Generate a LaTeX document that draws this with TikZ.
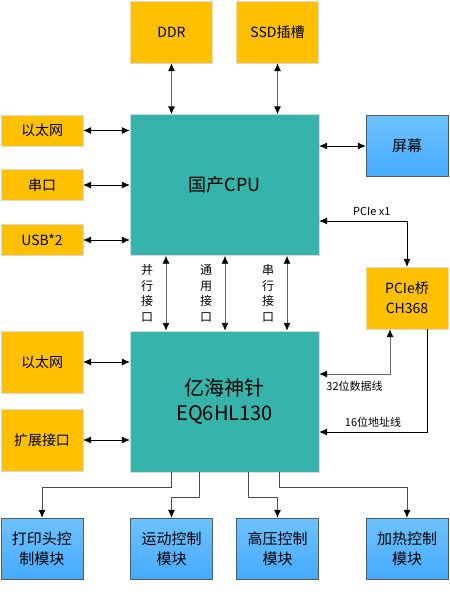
\documentclass[tikz,border=0pt]{standalone}
\usepackage{fontspec}
\setmainfont{Noto Sans CJK SC}
\usetikzlibrary{arrows.meta}
\definecolor{portorange}{HTML}{FFC000}
\definecolor{chipteal}{HTML}{36B3AA}
\definecolor{modtop}{HTML}{6EC2FF}
\definecolor{modbot}{HTML}{45AAFF}
\begin{document}
\begin{tikzpicture}[x=1pt, y=-1pt,
            >={Latex[length=8pt,width=7pt,color=black]},
            port/.style={rectangle, draw=black!15, fill=portorange, inner sep=0pt, minimum width=82pt, minimum height=62pt, font=\fontsize{14}{20}\selectfont, align=center},
            small port/.style={port, minimum height=31pt},
            chip/.style={rectangle, draw=black!15, fill=chipteal, inner sep=0pt, minimum width=189pt, minimum height=141pt, align=center},
            module/.style={rectangle, draw=black!65, top color=modtop, bottom color=modbot, inner sep=0pt, minimum width=82pt, minimum height=61pt, font=\fontsize{15}{20}\selectfont, align=center},
            bus/.style={<->, draw=black!60, line width=0.9pt},
            link/.style={<->, draw=black, line width=0.6pt},
            tree/.style={->, draw=black!70, line width=0.7pt},
            side label/.style={font=\fontsize{12}{15.5}\selectfont, align=center}
        ]
        \useasboundingbox (0,0) rectangle (450,614);
        
        % Chips
        \node[chip, font=\fontsize{18}{22}\selectfont] (cpu) at (224.5,185) {国产CPU};
        \node[chip, font=\fontsize{20}{25}\selectfont] (fpga) at (224.5,401.5) {亿海神针\\EQ6HL130};
        
        % Memory and storage
        \node[port] (ddr) at (171.5,32) {DDR};
        \node[port] (ssd) at (277.5,32) {SSD插槽};
        
        % CPU ports
        \node[small port] (eth-a) at (42,130.5) {以太网};
        \node[small port] (uart) at (42,185) {串口};
        \node[small port] (usb) at (42,240) {USB*2};
        \node[module] (screen) at (407,146) {屏幕};
        \node[port, font=\fontsize{14}{20}\selectfont] (bridge) at (407,298) {PCIe桥\\CH368};
        
        % FPGA ports
        \node[port] (eth-b) at (42,362) {以太网};
        \node[port] (ext) at (42,440) {扩展接口};
        
        % Modules
        \node[module] (head) at (42,548.5) {打印头控\\制模块};
        \node[module] (motion) at (171.5,548.5) {运动控制\\模块};
        \node[module] (hv) at (277.5,548.5) {高压控制\\模块};
        \node[module] (heat) at (407,548.5) {加热控制\\模块};
        
        % Connect memory and storage to CPU
        \foreach \n in {ddr,ssd}
            \draw[bus] (\n.south) -- (\n.south |- cpu.north);
        
        % Connect ports to CPU and FPGA
        \foreach \n in {eth-a,uart,usb}
            \draw[link] (\n.east) -- (\n.east -| cpu.west);
        \foreach \n in {eth-b,ext}
            \draw[link] (\n.east) -- (\n.east -| fpga.west);
        \draw[link] (screen.west) -- (screen.west -| cpu.east);
        
        % CPU to PCIe bridge
        \draw[link] ([yshift=-36pt]cpu.east) -| node[pos=0.3, above=2pt, font=\fontsize{11}{13}\selectfont] {PCIe x1} (bridge.north);
        
        % CPU to FPGA buses
        \draw[bus] ([xshift=-58.5pt]cpu.south) -- ([xshift=-58.5pt]fpga.north)
            node[midway, left=9pt, side label] {并\\行\\接\\口};
        \draw[bus] ([xshift=0.5pt]cpu.south) -- ([xshift=0.5pt]fpga.north)
            node[midway, left=9pt, side label] {通\\用\\接\\口};
        \draw[bus] ([xshift=62.5pt]cpu.south) -- ([xshift=62.5pt]fpga.north)
            node[midway, left=9pt, side label] {串\\行\\接\\口};
        
        % PCIe bridge to FPGA
        \draw[bus] ([xshift=-17pt]bridge.south) |- node[pos=0.75, below=3pt, font=\fontsize{11}{13}\selectfont] {32位数据线} ([yshift=27.5pt]fpga.east);
        \draw[->, draw=black, line width=0.6pt] ([xshift=20pt]bridge.south) |- node[pos=0.75, above=1pt, font=\fontsize{11}{13}\selectfont] {16位地址线} ([yshift=-30.5pt]fpga.east);
        
        % FPGA to modules
        \draw[tree] ([xshift=-53.5pt]fpga.south) -- ++(0,15) -| (head.north);
        \draw[tree] ([xshift=-25.5pt]fpga.south) -- ++(0,25) -| (motion.north);
        \draw[tree] ([xshift=23.5pt]fpga.south) -- ++(0,25) -| (hv.north);
        \draw[tree] ([xshift=54.5pt]fpga.south) -- ++(0,15) -| (heat.north);
        
        \end{tikzpicture}
\end{document}
